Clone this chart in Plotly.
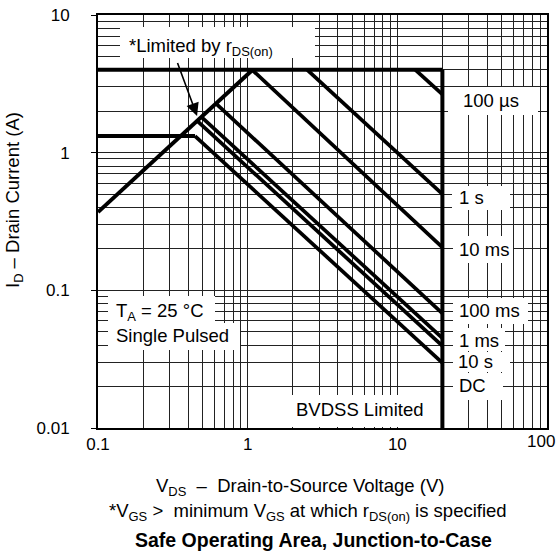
import math
import plotly.graph_objects as go

# ---------------- data ----------------
limit_v = [0.1, 20]
limit_i = [4, 4]
bvdss_v = [20, 20]
bvdss_i = [4, 0.01]
rds_v = [0.1, 1.08]
rds_i = [0.37, 4]
dcflat_v = [0.1, 0.445]
dcflat_i = [1.32, 1.32]

pulse_labels = ["100 µs", "1 s", "10 ms", "100 ms", "1 ms", "10 s", "DC"]
pulse_v_start = [13.2, 2.5, 1.07, 0.62, 0.49, 0.46, 0.445]
pulse_i_start = [4, 4, 4, 2.25, 1.82, 1.70, 1.32]
pulse_v_end = [20, 20, 20, 20, 20, 20, 20]
pulse_i_end = [2.65, 0.50, 0.205, 0.068, 0.045, 0.0395, 0.0297]

x_major = [0.1, 1, 10, 100]
x_major_text = ["0.1", "1", "10", "100"]
y_major = [0.01, 0.1, 1, 10]
y_major_text = ["0.01", "0.1", "1", "10"]

# ---------------- layout geometry ----------------
W, H = 558, 553
L, R, T, B = 98, 547, 15, 428
FONT = "Liberation Sans, Arial, Helvetica, sans-serif"
TXT = 18.5
TICK = 17


def px_x(p):
    return (p - L) / (R - L)


def px_y(p):
    return (B - p) / (B - T)


minor_x = [m * 10 ** e for e in (-1, 0, 1) for m in range(2, 10)]
minor_y = [m * 10 ** e for e in (-2, -1, 0) for m in range(2, 10)]

fig = go.Figure()
LW = 4
for vx, iy in [(limit_v, limit_i), (bvdss_v, bvdss_i), (rds_v, rds_i), (dcflat_v, dcflat_i)]:
    fig.add_trace(go.Scatter(x=vx, y=iy, mode="lines",
                             line=dict(color="black", width=LW), showlegend=False,
                             hoverinfo="skip"))
for k in range(len(pulse_labels)):
    fig.add_trace(go.Scatter(x=[pulse_v_start[k], pulse_v_end[k]],
                             y=[pulse_i_start[k], pulse_i_end[k]], mode="lines",
                             line=dict(color="black", width=3.7), showlegend=False,
                             name=pulse_labels[k], hoverinfo="skip"))

# the last x label ("100") sits at the right edge; it is drawn as an annotation
x_tick_shown = x_major_text[:-1] + [""]

grid = dict(gridcolor="#222", gridwidth=1)
fig.update_xaxes(type="log", range=[-1, 2], tickmode="array", tickvals=x_major,
                 ticktext=x_tick_shown, ticks="", showgrid=True, **grid,
                 minor=dict(tickmode="array", tickvals=minor_x, showgrid=True,
                            gridcolor="#222", gridwidth=1, ticks=""),
                 showline=True, linecolor="black", linewidth=2, mirror=True,
                 tickfont=dict(family=FONT, size=TICK, color="black"),
                 zeroline=False, automargin=False)
fig.update_yaxes(type="log", range=[-2, 1], tickmode="array", tickvals=y_major,
                 ticktext=y_major_text, ticks="outside", ticklen=5, tickcolor="black",
                 showgrid=True, **grid,
                 minor=dict(tickmode="array", tickvals=minor_y, showgrid=True,
                            gridcolor="#222", gridwidth=1, ticks=""),
                 showline=True, linecolor="black", linewidth=2, mirror=True,
                 tickfont=dict(family=FONT, size=TICK, color="black"),
                 ticklabelstandoff=18, zeroline=False, automargin=False)

fig.add_annotation(text=x_major_text[-1], xref="paper", yref="paper", x=px_x(541), y=px_y(441),
                   xanchor="center", yanchor="middle", showarrow=False,
                   font=dict(family=FONT, size=TICK, color="black"))

# white label boxes that hide the grid (no trace passes under them)
boxes = [
    (120, 27, 315, 58),
    (448, 87, 538, 115),
    (452, 186, 510, 210),
    (453, 236, 513, 263),
    (453, 298, 528, 324),
    (453, 328, 505, 351),
    (453, 352, 510, 372),
    (453, 373, 503, 400),
    (285, 395, 432, 427),
    (108, 296, 215, 323),
    (108, 323, 240, 350),
]
for x0, y0, x1, y1 in boxes:
    fig.add_shape(type="rect", xref="paper", yref="paper",
                  x0=px_x(x0), x1=px_x(x1), y0=px_y(y1), y1=px_y(y0),
                  fillcolor="white", line=dict(width=0), layer="above")

ann_font = dict(family=FONT, size=TXT, color="black")
labels = [
    ("*Limited by r<sub>DS(on)</sub>", 127, 47),
    ("100 µs", 461, 100),
    ("1 s", 457, 198),
    ("10 ms", 457, 250),
    ("100 ms", 457, 311),
    ("1 ms", 457, 340),
    ("10 s", 456, 361),
    ("DC", 457, 385),
    ("BVDSS Limited", 294, 409),
    ("T<sub>A</sub> = 25 °C", 114, 312),
    ("Single Pulsed", 114, 335),
]
for txt, xp, yp in labels:
    fig.add_annotation(text=txt, xref="paper", yref="paper", x=px_x(xp), y=px_y(yp),
                       xanchor="left", yanchor="middle", showarrow=False, font=ann_font)

# arrow pointing at the rDS(on) line
fig.add_annotation(text="", x=math.log10(0.459), y=math.log10(1.85), xref="x", yref="y",
                   ax=math.log10(0.337), ay=math.log10(4.6), axref="x", ayref="y",
                   showarrow=True, arrowhead=2, arrowsize=1.6, arrowwidth=1.6,
                   arrowcolor="black", standoff=0)

# axis titles and captions
fig.add_annotation(text="I<sub>D</sub> – Drain Current (A)", xref="paper", yref="paper",
                   x=px_x(14), y=px_y(200), textangle=-90, showarrow=False,
                   xanchor="center", yanchor="middle", font=dict(family=FONT, size=TXT, color="black"))
fig.add_annotation(text="V<sub>DS</sub>  –  Drain-to-Source Voltage (V)", xref="paper", yref="paper",
                   x=px_x(300), y=px_y(487), showarrow=False, xanchor="center", yanchor="middle",
                   font=dict(family=FONT, size=TXT, color="black"))
fig.add_annotation(text="*V<sub>GS</sub> >  minimum V<sub>GS</sub> at which r<sub>DS(on)</sub> is specified",
                   xref="paper", yref="paper", x=px_x(308), y=px_y(512), showarrow=False,
                   xanchor="center", yanchor="middle", font=dict(family=FONT, size=TXT, color="black"))
fig.add_annotation(text="<b>Safe Operating Area, Junction-to-Case</b>", xref="paper", yref="paper",
                   x=px_x(313), y=px_y(540), showarrow=False, xanchor="center", yanchor="middle",
                   font=dict(family=FONT, size=19.5, color="black"))

fig.update_layout(width=W, height=H, margin=dict(l=L, r=W - R, t=T, b=H - B),
                  paper_bgcolor="white", plot_bgcolor="white", showlegend=False)
fig.write_html("out.html", config={"displayModeBar": False},
               post_script="document.body.style.margin='0';document.body.style.padding='0';")
